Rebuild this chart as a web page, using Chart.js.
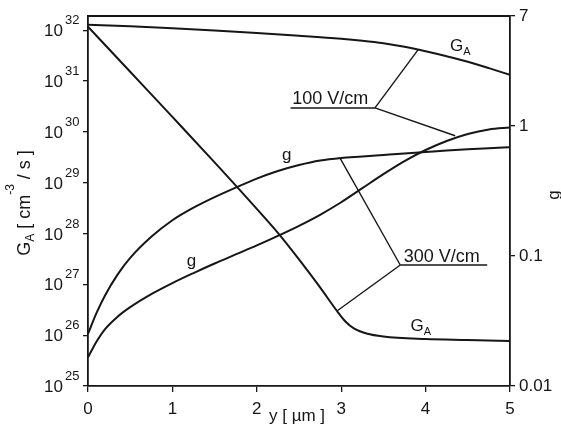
<!DOCTYPE html>
<html>
<head>
<meta charset="utf-8">
<script src="https://cdn.jsdelivr.net/npm/chart.js@4"></script>
<style>body{margin:0;background:#fff}</style>
</head>
<body>
<canvas id="chart" width="561" height="436"></canvas>
<script>
// depth y in µm and values
const depth = [0, 0.5, 1, 1.5, 2, 2.5, 3, 3.25, 3.5, 3.75, 4, 4.25, 4.5, 4.75, 5];
const gaAt100 = [1.277e32, 1.194e32, 1.09e32, 9.82e31, 8.77e31, 7.76e31, 6.77e31, 6.19e31, 5.52e31, 4.71e31, 3.84e31, 3.06e31, 2.39e31, 1.79e31, 1.32e31];

const depthSteep = [0, 0.5, 1, 1.5, 2, 2.25, 2.5, 2.75, 2.95, 3.05, 3.15, 3.3, 3.5, 4, 4.5, 5];
const gaAt300 = [1.17e32, 1.52e31, 1.97e30, 2.51e29, 3.05e28, 1.03e28, 3.09e27, 8.69e26, 2.99e26, 1.86e26, 1.36e26, 1.08e26, 9.42e25, 8.42e25, 8.05e25, 7.69e25];

const depthG = [0, 0.1, 0.2, 0.35, 0.5, 0.75, 1, 1.25, 1.5, 1.75, 2, 2.25, 2.5, 2.75, 3, 3.25, 3.5, 3.75, 4, 4.25, 4.5, 4.75, 5];
const gAt100 = [0.0166, 0.0219, 0.0273, 0.0341, 0.0404, 0.0509, 0.0619, 0.0739, 0.0875, 0.1027, 0.1205, 0.1427, 0.1705, 0.2073, 0.2588, 0.332, 0.4259, 0.5366, 0.6527, 0.766, 0.8673, 0.9397, 0.9737];
const gAt300 = [0.0252, 0.0363, 0.0495, 0.0719, 0.0965, 0.1402, 0.188, 0.2348, 0.283, 0.335, 0.3933, 0.4495, 0.5, 0.5418, 0.5666, 0.581, 0.597, 0.6134, 0.63, 0.6473, 0.6622, 0.6745, 0.685];

const xTicks = [0, 1, 2, 3, 4, 5];
const leftTicks = [1e25, 1e26, 1e27, 1e28, 1e29, 1e30, 1e31, 1e32];
const rightTicks = [0.01, 0.1, 1, 7];

const INK = '#161616';
const FONT = '"Liberation Sans", Arial, sans-serif';

const pts = (xs, vs) => xs.map((x, i) => ({ x: x, y: vs[i] }));
const curve = (data, axis) => ({
  data: data,
  yAxisID: axis,
  borderColor: INK,
  borderWidth: 2,
  pointRadius: 0,
  fill: false,
  cubicInterpolationMode: 'monotone'
});

function drawRuns(ctx, parts, x, y) {
  let cx = x;
  parts.forEach(p => {
    ctx.font = p.size + 'px ' + FONT;
    ctx.fillText(p.t, cx, y + (p.dy || 0));
    cx += ctx.measureText(p.t).width;
  });
}
function runsWidth(ctx, parts) {
  let w = 0;
  parts.forEach(p => { ctx.font = p.size + 'px ' + FONT; w += ctx.measureText(p.t).width; });
  return w;
}

const decor = {
  id: 'decor',
  beforeDraw(chart) {
    const ctx = chart.ctx;
    ctx.save();
    ctx.fillStyle = '#fff';
    ctx.fillRect(0, 0, chart.width, chart.height);
    ctx.restore();
  },
  afterDraw(chart) {
    const ctx = chart.ctx;
    const ca = chart.chartArea;
    const sx = chart.scales.x;
    const at = (x, v, axis) => [sx.getPixelForValue(x), chart.scales[axis].getPixelForValue(v)];
    ctx.save();
    ctx.fillStyle = INK;
    ctx.strokeStyle = INK;

    // top frame
    ctx.lineWidth = 1.8;
    ctx.beginPath();
    ctx.moveTo(ca.left, ca.top);
    ctx.lineTo(ca.right, ca.top);
    ctx.stroke();

    // left tick labels 10^n
    const ys = chart.scales.y;
    ctx.textBaseline = 'alphabetic';
    ys.ticks.forEach(t => {
      const py = ys.getPixelForValue(t.value);
      ctx.textAlign = 'right';
      ctx.font = '17px ' + FONT;
      ctx.fillText('10', ys.right - 25, py + 6);
      ctx.textAlign = 'left';
      ctx.font = '13px ' + FONT;
      ctx.fillText(String(Math.round(Math.log10(t.value))), ys.right - 23, py - 6);
    });

    // axis titles
    ctx.textAlign = 'left';
    const leftTitle = [
      { t: 'G', size: 18 }, { t: 'A', size: 12, dy: 4 },
      { t: ' [ cm', size: 18 }, { t: '-3', size: 12, dy: -16 },
      { t: ' / s ]', size: 18 }
    ];
    ctx.save();
    ctx.translate(24, 203);
    ctx.rotate(-Math.PI / 2);
    drawRuns(ctx, leftTitle, -runsWidth(ctx, leftTitle) / 2, 6);
    ctx.restore();

    ctx.save();
    ctx.translate(555, 195);
    ctx.rotate(-Math.PI / 2);
    ctx.textAlign = 'center';
    ctx.font = '17px ' + FONT;
    ctx.fillText('g', 0, 4);
    ctx.restore();

    ctx.textAlign = 'center';
    ctx.font = '17px ' + FONT;
    ctx.fillText('y [ µm ]', 297, 421);

    // leader lines
    const line = (a, b) => { ctx.beginPath(); ctx.moveTo(a[0], a[1]); ctx.lineTo(b[0], b[1]); ctx.stroke(); };
    ctx.lineWidth = 1.4;
    const k100 = at(3.40, 2.95e30, 'y');
    line(at(2.40, 2.95e30, 'y'), k100);
    line(k100, at(3.91, 4.1e31, 'y'));
    line(k100, at(4.35, 0.84, 'g'));
    const k300 = at(3.70, 2.4e27, 'y');
    line(k300, at(4.73, 2.4e27, 'y'));
    line(k300, at(2.99, 0.56, 'g'));
    line(k300, at(2.95, 2.99e26, 'y'));

    // labels
    ctx.textAlign = 'left';
    ctx.font = '18px ' + FONT;
    let p = at(2.42, 3.6e30, 'y');
    ctx.fillText('100 V/cm', p[0], p[1]);
    p = at(3.74, 2.75e27, 'y');
    ctx.fillText('300 V/cm', p[0], p[1]);

    const gaLabel = [{ t: 'G', size: 17 }, { t: 'A', size: 11, dy: 4 }];
    p = at(4.29, 3.9e31, 'y');
    drawRuns(ctx, gaLabel, p[0], p[1]);
    p = at(3.82, 1.2e26, 'y');
    drawRuns(ctx, gaLabel, p[0], p[1]);

    ctx.font = '17px ' + FONT;
    p = at(2.30, 2.8e29, 'y');
    ctx.fillText('g', p[0], p[1]);
    p = at(1.17, 2.3e27, 'y');
    ctx.fillText('g', p[0], p[1]);

    ctx.restore();
  }
};

const axisGrid = { drawOnChartArea: false, drawTicks: true, tickLength: 5, color: INK, lineWidth: 1.3 };
const axisBorder = { display: true, color: INK, width: 1.8 };

new Chart(document.getElementById('chart'), {
  type: 'line',
  data: {
    datasets: [
      curve(pts(depth, gaAt100), 'y'),
      curve(pts(depthSteep, gaAt300), 'y'),
      curve(pts(depthG, gAt100), 'g'),
      curve(pts(depthG, gAt300), 'g')
    ]
  },
  options: {
    responsive: false,
    animation: false,
    devicePixelRatio: 1,
    layout: { autoPadding: false, padding: { top: 16, left: 0, right: 0, bottom: 0 } },
    plugins: { legend: { display: false }, tooltip: { enabled: false } },
    scales: {
      x: {
        type: 'linear', min: 0, max: 5,
        afterBuildTicks: s => { s.ticks = xTicks.map(v => ({ value: v })); },
        ticks: { color: INK, font: { size: 17, family: FONT }, padding: 7, maxRotation: 0 },
        grid: Object.assign({}, axisGrid, { tickLength: 6 }),
        border: axisBorder,
        afterFit: s => { s.height = 50; }
      },
      y: {
        type: 'logarithmic', position: 'left', min: 1e25, max: 1.9e32,
        afterBuildTicks: s => { s.ticks = leftTicks.map(v => ({ value: v })); },
        ticks: { callback: () => '' },
        grid: axisGrid,
        border: axisBorder,
        afterFit: s => { s.width = 88; }
      },
      g: {
        type: 'logarithmic', position: 'right', min: 0.01, max: 7,
        afterBuildTicks: s => { s.ticks = rightTicks.map(v => ({ value: v })); },
        ticks: { callback: v => String(v), color: INK, font: { size: 17, family: FONT }, padding: 4 },
        grid: axisGrid,
        border: axisBorder,
        afterFit: s => { s.width = 51; }
      }
    }
  },
  plugins: [decor]
});
</script>
</body>
</html>
